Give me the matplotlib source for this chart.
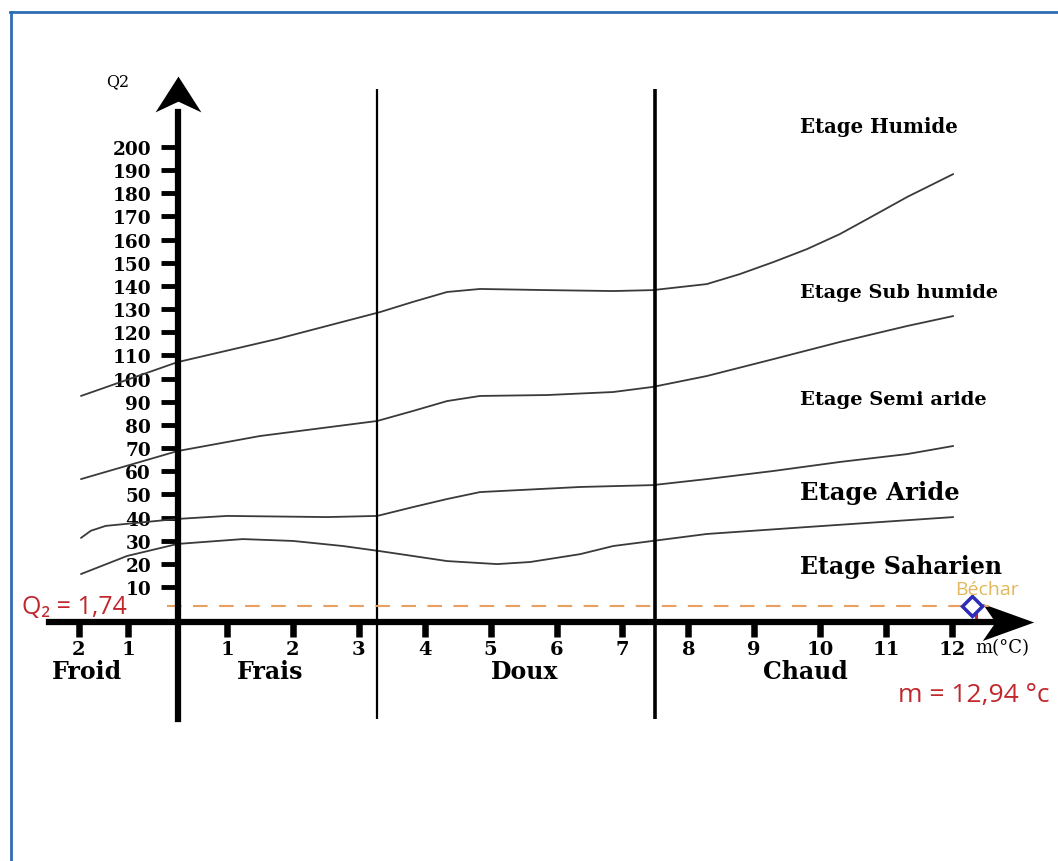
import numpy as np
import matplotlib
matplotlib.use("Agg")
import matplotlib.pyplot as plt
from matplotlib.path import Path
from matplotlib.lines import Line2D

# --- data (m in degC, Q2) ---
humide_m = [-1.95, 0.0, 1.76, 3.32, 3.82, 4.34, 4.84, 5.86, 6.86, 7.46, 8.28, 8.78, 9.29, 9.80, 10.30, 10.80, 11.32, 12.02]
humide_q = [92.5, 107.1, 117.1, 128.7, 133.1, 137.4, 138.7, 138.2, 137.8, 138.2, 140.8, 145.1, 150.3, 155.9, 162.4, 170.2, 178.4, 188.3]

subhum_m = [-1.95, 0.0, 1.50, 3.28, 3.82, 4.34, 4.84, 5.86, 6.86, 7.46, 8.28, 9.29, 10.30, 11.32, 12.02]
subhum_q = [56.6, 68.7, 75.2, 81.7, 86.0, 90.3, 92.5, 92.9, 94.2, 96.4, 101.1, 108.4, 115.8, 122.7, 127.0]

semiar_m = [-1.95, -1.75, -1.45, 0.0, 1.0, 2.52, 3.28, 3.82, 4.34, 4.84, 6.36, 7.46, 8.28, 9.29, 10.30, 11.32, 12.02]
semiar_q = [31.2, 34.3, 36.4, 39.4, 40.7, 40.2, 40.7, 44.5, 48.0, 51.0, 53.2, 54.0, 56.6, 60.1, 64.0, 67.4, 70.9]

aride_m = [-1.95, -1.02, 0.0, 1.24, 2.0, 2.76, 3.32, 3.82, 4.34, 5.10, 5.60, 6.36, 6.86, 7.46, 8.28, 9.80, 12.02]
aride_q = [15.6, 23.4, 28.6, 30.7, 29.9, 27.7, 25.5, 23.4, 21.2, 19.9, 20.8, 24.2, 27.7, 29.9, 32.9, 35.9, 40.2]

zone_limits = [3.28, 7.5]
zone_names = ["Froid", "Frais", "Doux", "Chaud"]
zone_label_m = [-1.83, 1.65, 5.52, 9.77]

etage_names = ["Etage Humide", "Etage Sub humide", "Etage Semi aride", "Etage Aride", "Etage Saharien"]
etage_q = [209, 137.4, 91.2, 51.0, 19.1]
etage_sizes = [14.2, 13.9, 14, 17.5, 17]

x_ticks = [-2, -1, 1, 2, 3, 4, 5, 6, 7, 8, 9, 10, 11, 12]
x_labels = ["2", "1", "1", "2", "3", "4", "5", "6", "7", "8", "9", "10", "11", "12"]
y_ticks = list(range(10, 210, 10))

bechar_q2 = 1.74
bechar_m_plot = 12.30  # where the point sits on the drawing
bechar_m = 12.94


# piecewise scale of the original drawing (narrower units left of m=1)
def fwd(m):
    m = np.asarray(m, dtype=float)
    return np.where(m < 1, 227 + 49.5 * (m - 1), 227 + 65.9 * (m - 1))


def inv(u):
    u = np.asarray(u, dtype=float)
    return np.where(u < 227, 1 + (u - 227) / 49.5, 1 + (u - 227) / 65.9)


fig = plt.figure(figsize=(10.58, 8.62), dpi=100)
ax = fig.add_axes([0, 0, 1, 1])
ax.set_xscale("function", functions=(fwd, inv))
ax.set_xlim(float(inv(0)), float(inv(1058)))
ax.set_ylim(-108.3, 263.9)
ax.patch.set_alpha(0)

serif = "DejaVu Serif"
sans = ["Open Sans", "DejaVu Sans"]
curve_kw = dict(color="#3a3a3a", lw=1.3, solid_capstyle="round", solid_joinstyle="round")
for mm, qq in [(humide_m, humide_q), (subhum_m, subhum_q), (semiar_m, semiar_q), (aride_m, aride_q)]:
    ax.plot(mm, qq, **curve_kw)

# zone separators
ax.vlines(zone_limits[0], -47, 225, color="black", lw=1.6)
ax.vlines(zone_limits[1], -47, 225, color="black", lw=2.6)

# axes as spines through the origin
for s in ["top", "right"]:
    ax.spines[s].set_visible(False)
ax.spines["left"].set_position(("data", 0))
ax.spines["left"].set_bounds(-47, 215)
ax.spines["left"].set_linewidth(4.5)
ax.spines["bottom"].set_position(("data", -5.2))
ax.spines["bottom"].set_bounds(-2.6, 12.7)
ax.spines["bottom"].set_linewidth(4.5)

ax.set_xticks(x_ticks)
ax.set_xticklabels(x_labels, fontfamily=serif, fontweight="bold", fontsize=14)
ax.set_yticks(y_ticks)
ax.set_yticklabels([str(v) for v in y_ticks], fontfamily=serif, fontweight="bold", fontsize=13.3)
ax.tick_params(axis="x", direction="out", length=11, width=4.7, pad=2)
ax.tick_params(axis="y", direction="out", length=12, width=3.5, pad=7)

# arrow heads
head_up = Path([(0, 0.5), (0.64, -0.5), (0, -0.2), (-0.64, -0.5), (0, 0.5)],
               [Path.MOVETO, Path.LINETO, Path.LINETO, Path.LINETO, Path.CLOSEPOLY])
head_right = Path([(0.5, 0), (-0.5, 0.36), (-0.25, 0), (-0.5, -0.36), (0.5, 0)],
                  [Path.MOVETO, Path.LINETO, Path.LINETO, Path.LINETO, Path.CLOSEPOLY])
ax.plot([0], [223], marker=head_up, ms=33, color="black", mew=0)
ax.plot([12.85], [-5.2], marker=head_right, ms=37, color="black", mew=0)

ax.text(-1.2, 228.5, "Q2", fontfamily=serif, fontsize=11.5, ha="center", va="center")
ax.text(12.35, -15.9, "m(°C)", fontfamily=serif, fontsize=13, ha="left", va="center")

for name, m in zip(zone_names, zone_label_m):
    ax.text(m, -26.3, name, fontfamily=serif, fontweight="bold", fontsize=17, ha="center", va="center")

for name, q, fs in zip(etage_names, etage_q, etage_sizes):
    ax.text(9.70, q, name, fontfamily=serif, fontweight="bold", fontsize=fs, ha="left", va="center")

# Bechar station
ax.plot([-0.21, 12.61], [bechar_q2, bechar_q2], color="#E8A060", lw=1.5, ls=(0, (7, 5.5)))
ax.vlines(12.37, -5.2, -0.4, color="#C0282D", lw=2.2)
ax.plot([bechar_m_plot], [bechar_q2], marker="D", ms=10, mfc="white", mec="#2C2CB8", mew=2.5)
ax.text(12.05, 9.1, "Béchar", color="#E2B85A", fontsize=14, fontfamily=sans, ha="left", va="center")
red = "#C0282D"
ax.text(-3.14, 1.6, "Q₂ = 1,74", color=red, fontsize=18, fontfamily=sans, ha="left", va="center")
ax.text(11.18, -36.6, f"m = {bechar_m:.2f} °c".replace(".", ","), color=red, fontsize=19,
        fontfamily=sans, ha="left", va="center")

# blue page frame
fig.add_artist(Line2D([10 / 1058, 1], [1 - 13 / 862] * 2, transform=fig.transFigure, color="#2E6DB4", lw=2))
fig.add_artist(Line2D([11 / 1058] * 2, [0, 1 - 13 / 862], transform=fig.transFigure, color="#2E6DB4", lw=2))

fig.savefig("out.png", dpi=100)
